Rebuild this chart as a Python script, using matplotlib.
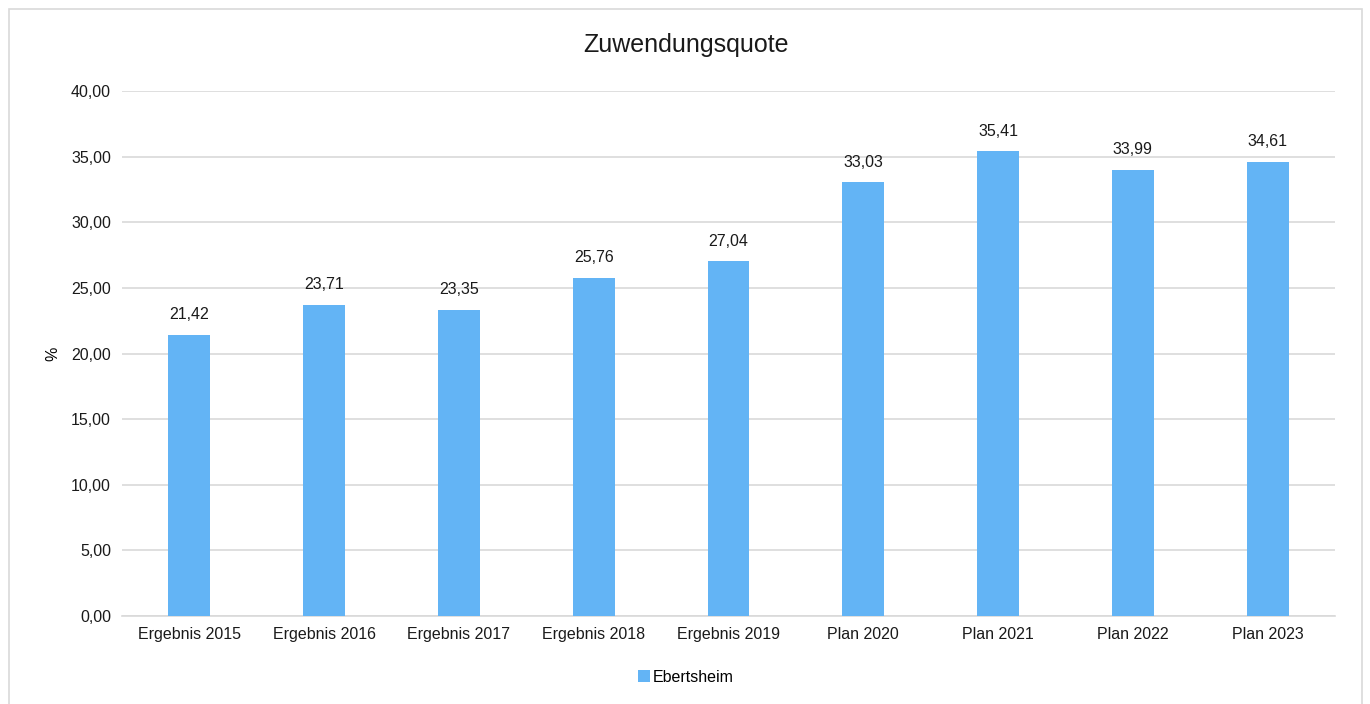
import matplotlib.pyplot as plt
from matplotlib.patches import Rectangle

categories = ["Ergebnis 2015", "Ergebnis 2016", "Ergebnis 2017", "Ergebnis 2018",
              "Ergebnis 2019", "Plan 2020", "Plan 2021", "Plan 2022", "Plan 2023"]
values = [21.42, 23.71, 23.35, 25.76, 27.04, 33.03, 35.41, 33.99, 34.61]
series_name = "Ebertsheim"
y_ticks = [0, 5, 10, 15, 20, 25, 30, 35, 40]

plt.rcParams['font.family'] = ['Liberation Sans', 'DejaVu Sans']

fig = plt.figure(figsize=(13.7, 7.04), dpi=100)
# Rahmen um das Diagramm
fig.patches.append(Rectangle((9 / 1370, -0.05), 1353 / 1370, 1 - 9 / 704 + 0.05,
                             transform=fig.transFigure, fill=False,
                             edgecolor='#d9d9d9', linewidth=1.2))

ax = fig.add_axes([122 / 1370, 1 - 616 / 704, 1213 / 1370, 525 / 704])
x = range(len(categories))
bars = ax.bar(x, values, width=0.31, color='#63b4f5', label=series_name, zorder=3)

for xi, v in zip(x, values):
    ax.text(xi, v + 0.95, f"{v:.2f}".replace('.', ','), ha='center', va='bottom',
            fontsize=11.5, color='#1a1a1a')

ax.set_xlim(-0.5, len(categories) - 0.5)
ax.set_ylim(0, 40)
ax.set_yticks(y_ticks)
ax.set_yticklabels([f"{t:.2f}".replace('.', ',') for t in y_ticks], fontsize=11.5)
ax.set_xticks(list(x))
ax.set_xticklabels(categories, fontsize=11.5)
ax.tick_params(length=0, colors='#1a1a1a', pad=8)
ax.yaxis.grid(True, color='#d9d9d9', linewidth=1.2, zorder=0)
for s in ['top', 'right', 'left']:
    ax.spines[s].set_visible(False)
ax.spines['bottom'].set_color('#d9d9d9')
ax.spines['bottom'].set_linewidth(1.2)
ax.set_ylabel('%', fontsize=11.5)
ax.yaxis.set_label_coords((60 - 122) / 1213, 0.5)

fig.text(686 / 1370, 1 - 45 / 704, "Zuwendungsquote", ha='center', va='center',
         fontsize=18, color='#1a1a1a')

fig.legend(handles=[bars], labels=[series_name], loc='center',
           bbox_to_anchor=(686 / 1370, 1 - 677 / 704), frameon=False, fontsize=11.5,
           handlelength=0.7, handleheight=0.7, handletextpad=0.2)

fig.savefig('out.png', dpi=100)
